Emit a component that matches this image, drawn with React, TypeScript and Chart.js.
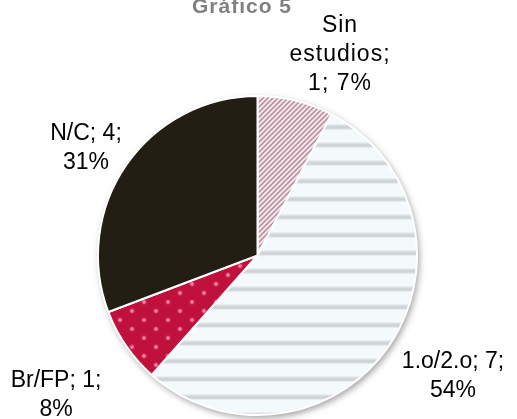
import React, { useEffect, useRef } from "react";
import { Chart, registerables } from "chart.js";

Chart.register(...registerables);

const chartTitle = "Gráfico 5";
const categories = ["Sin estudios", "1.o/2.o", "Br/FP", "N/C"];
const counts = [1, 7, 1, 4];
const percentLabels = ["7%", "54%", "8%", "31%"];

function tile(w: number, h: number, draw: (c: CanvasRenderingContext2D) => void) {
  const c = document.createElement("canvas");
  c.width = w;
  c.height = h;
  const ctx = c.getContext("2d")!;
  draw(ctx);
  return c;
}

function makePatterns(ctx: CanvasRenderingContext2D) {
  // pink diagonal stripes
  const pink = tile(5, 5, (c) => {
    const cols = ["#b08896", "#d4b8c3", "#f2e5ea", "#f2e5ea", "#d4b8c3"];
    for (let x = 0; x < 5; x++)
      for (let y = 0; y < 5; y++) {
        c.fillStyle = cols[(x + y) % 5];
        c.fillRect(x, y, 1, 1);
      }
  });
  // light horizontal stripes
  const gray = tile(4, 18, (c) => {
    c.fillStyle = "#f4f9fb";
    c.fillRect(0, 0, 4, 18);
    const rows: [number, string][] = [
      [16, "#e8edef"],
      [17, "#dbe0e2"],
      [0, "#d0d5d7"],
      [1, "#cdd2d4"],
      [2, "#d4d9db"],
      [3, "#e6ebed"],
    ];
    rows.forEach(([r, col]) => {
      c.fillStyle = col;
      c.fillRect(0, r, 4, 1);
    });
  });
  // crimson with dots
  const dots = tile(24, 18, (c) => {
    c.fillStyle = "#c0103c";
    c.fillRect(0, 0, 24, 18);
    const pts = [
      [0, 14],
      [24, 14],
      [12, 5],
    ];
    pts.forEach(([x, y]) => {
      const g = c.createRadialGradient(x, y, 0, x, y, 3.6);
      g.addColorStop(0, "rgba(255,175,200,1)");
      g.addColorStop(0.4, "rgba(240,110,150,0.9)");
      g.addColorStop(1, "rgba(192,16,60,0)");
      c.fillStyle = g;
      c.beginPath();
      c.arc(x, y, 3.6, 0, Math.PI * 2);
      c.fill();
    });
  });
  return [
    ctx.createPattern(pink, "repeat")!,
    ctx.createPattern(gray, "repeat")!,
    ctx.createPattern(dots, "repeat")!,
    "#221e14",
  ];
}

function wrapLabel(ctx: CanvasRenderingContext2D, text: string, maxWidth: number) {
  const words = text.split(" ");
  const lines: string[] = [];
  let cur = "";
  for (const w of words) {
    const test = cur ? cur + " " + w : w;
    if (cur && ctx.measureText(test).width > maxWidth) {
      lines.push(cur);
      cur = w;
    } else cur = test;
  }
  if (cur) lines.push(cur);
  return lines;
}

// label anchor layout (center x, first baseline y, letter spacing)
const labelLayout: [number, number, number][] = [
  [340, 32, 1],
  [453, 368, 0],
  [56, 387, 0],
  [86, 140, 0],
];

const decorPlugin = {
  id: "decor",
  beforeDatasetsDraw(chart: any) {
    const meta = chart.getDatasetMeta(0);
    const arc = meta.data[0];
    if (!arc) return;
    const { x, y, outerRadius } = arc.getProps(["x", "y", "outerRadius"], true);
    const ctx = chart.ctx;
    ctx.save();
    ctx.shadowColor = "rgba(0,0,0,0.4)";
    ctx.shadowBlur = 7;
    ctx.shadowOffsetX = 2;
    ctx.shadowOffsetY = 3;
    ctx.fillStyle = "#ffffff";
    ctx.beginPath();
    ctx.arc(x, y, outerRadius, 0, Math.PI * 2);
    ctx.fill();
    ctx.restore();
  },
  afterDraw(chart: any) {
    const ctx = chart.ctx as CanvasRenderingContext2D;
    ctx.save();
    // title
    ctx.fillStyle = "#808080";
    ctx.font = "bold 21px 'Liberation Sans', Arial, sans-serif";
    (ctx as any).letterSpacing = "1px";
    ctx.textAlign = "center";
    ctx.textBaseline = "alphabetic";
    ctx.fillText(chartTitle, 242, 13);
    // labels
    ctx.fillStyle = "#000000";
    ctx.font = "23px 'Liberation Sans', Arial, sans-serif";
    categories.forEach((cat, i) => {
      const [cx, by, ls] = labelLayout[i];
      (ctx as any).letterSpacing = ls + "px";
      const text = `${cat}; ${counts[i]}; ${percentLabels[i]}`;
      const lines = wrapLabel(ctx, text, 110);
      lines.forEach((ln, k) => {
        ctx.fillText(ln, cx, by + k * 29);
      });
    });
    ctx.restore();
  },
};

export default function App() {
  const ref = useRef<HTMLCanvasElement>(null);
  useEffect(() => {
    const canvas = ref.current!;
    const ctx = canvas.getContext("2d")!;
    const fills = makePatterns(ctx);
    const chart = new Chart(canvas, {
      type: "pie",
      data: {
        labels: categories,
        datasets: [
          {
            data: counts,
            backgroundColor: fills as any,
            borderColor: "#ffffff",
            borderWidth: 2,
          },
        ],
      },
      options: {
        responsive: false,
        animation: false,
        layout: { padding: { left: 97, right: 99, top: 95, bottom: 3 } },
        plugins: {
          legend: { display: false },
          tooltip: { enabled: false },
          title: { display: false },
        },
      },
      plugins: [decorPlugin],
    });
    return () => chart.destroy();
  }, []);
  return (
    <div style={{ position: "fixed", left: 0, top: 0, width: 517, height: 419, background: "#ffffff" }}>
      <canvas ref={ref} width={517} height={419} />
    </div>
  );
}
